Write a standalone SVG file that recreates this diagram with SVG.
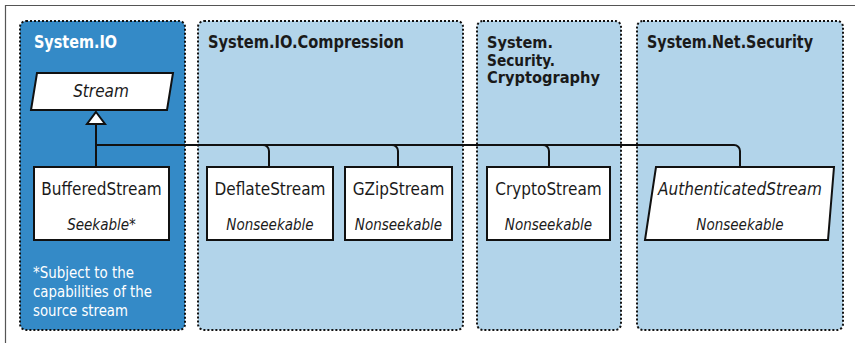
<svg xmlns="http://www.w3.org/2000/svg" width="855" height="343" viewBox="0 0 855 343">
<style>
.panel{stroke:#111;stroke-width:2;stroke-dasharray:2 2}
.title{font-family:"Liberation Sans Narrow","DejaVu Sans Condensed","Liberation Sans",sans-serif;font-weight:bold;font-size:18px;fill:#1a1a1a}
.node{fill:#fff;stroke:#111;stroke-width:2}
.name{font-family:"Liberation Sans Narrow","DejaVu Sans Condensed","Liberation Sans",sans-serif;font-size:17px;fill:#1a1a1a;text-anchor:middle}
.sub{font-family:"Liberation Sans Narrow","DejaVu Sans Condensed","Liberation Sans",sans-serif;font-size:15px;font-style:italic;fill:#1a1a1a;text-anchor:middle}
.note{font-family:"Liberation Sans Narrow","DejaVu Sans Condensed","Liberation Sans",sans-serif;font-size:15.5px;fill:#fff}
.conn{fill:none;stroke:#111;stroke-width:2}
</style>
<path d="M5.5 343V5.5H855" fill="none" stroke="#555" stroke-width="1.2"/>
<g id="panel-io">
<rect class="panel" x="20" y="21" width="165" height="309" rx="6" fill="#348ac7"/>
<text class="title" x="34" y="48" style="fill:#fff" textLength="83" lengthAdjust="spacingAndGlyphs">System.IO</text>
<text class="note" x="33" y="278" textLength="101" lengthAdjust="spacingAndGlyphs">*Subject to the</text>
<text class="note" x="33" y="297" textLength="119" lengthAdjust="spacingAndGlyphs">capabilities of the</text>
<text class="note" x="33" y="316" textLength="95" lengthAdjust="spacingAndGlyphs">source stream</text>
</g>
<g id="panel-compression">
<rect class="panel" x="198" y="21" width="265" height="309" rx="6" fill="#b2d4ea"/>
<text class="title" x="208" y="48" textLength="196" lengthAdjust="spacingAndGlyphs">System.IO.Compression</text>
</g>
<g id="panel-crypto">
<rect class="panel" x="477" y="21" width="144" height="309" rx="6" fill="#b2d4ea"/>
<text class="title" x="487" y="48" style="font-size:16px" textLength="66" lengthAdjust="spacingAndGlyphs">System.</text>
<text class="title" x="487" y="65.5" style="font-size:16px" textLength="68" lengthAdjust="spacingAndGlyphs">Security.</text>
<text class="title" x="487" y="83" style="font-size:16px" textLength="113" lengthAdjust="spacingAndGlyphs">Cryptography</text>
</g>
<g id="panel-net">
<rect class="panel" x="637" y="21" width="206" height="309" rx="6" fill="#b2d4ea"/>
<text class="title" x="647" y="48" textLength="166" lengthAdjust="spacingAndGlyphs">System.Net.Security</text>
</g>
<g id="connectors">
<path class="conn" d="M96 124V167"/>
<path class="conn" d="M96 145H734a6 6 0 0 1 6 6V167"/>
<path class="conn" d="M263 145a6 6 0 0 1 6 6V167"/>
<path class="conn" d="M392 145a6 6 0 0 1 6 6V167"/>
<path class="conn" d="M543 145a6 6 0 0 1 6 6V167"/>
<path d="M96 112L105 124H87Z" fill="#fff" stroke="#111" stroke-width="2" stroke-linejoin="miter"/>
</g>
<g id="stream">
<path class="node" d="M37 73H173L167 110H31Z"/>
<text class="sub" x="101" y="97" style="font-size:17px">Stream</text>
</g>
<g id="buffered">
<rect class="node" x="34" y="167" width="135" height="73"/>
<text class="name" x="101.5" y="195">BufferedStream</text>
<text class="sub" x="101.5" y="230">Seekable*</text>
</g>
<g id="deflate">
<rect class="node" x="207" y="167" width="126" height="73"/>
<text class="name" x="270" y="195">DeflateStream</text>
<text class="sub" x="270" y="230">Nonseekable</text>
</g>
<g id="gzip">
<rect class="node" x="345" y="167" width="107" height="73"/>
<text class="name" x="398.5" y="195">GZipStream</text>
<text class="sub" x="398.5" y="230">Nonseekable</text>
</g>
<g id="crypto">
<rect class="node" x="487" y="167" width="123" height="73"/>
<text class="name" x="548.5" y="195">CryptoStream</text>
<text class="sub" x="548.5" y="230">Nonseekable</text>
</g>
<g id="authenticated">
<path class="node" d="M656 167H834L828 240H645Z"/>
<text class="sub" x="740" y="195" style="font-size:17px">AuthenticatedStream</text>
<text class="sub" x="740" y="230">Nonseekable</text>
</g>
</svg>
